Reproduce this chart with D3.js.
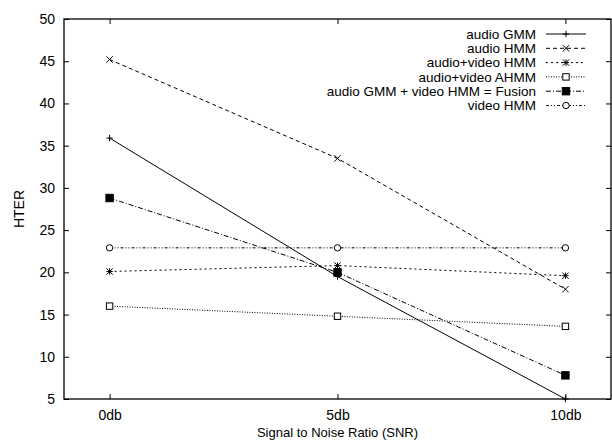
<!DOCTYPE html>
<html>
<head>
<meta charset="utf-8">
<script src="https://cdn.jsdelivr.net/npm/d3@7.9.0/dist/d3.min.js"></script>
<style>
  body { margin: 0; background: #fff; }
  svg text { font-family: "Liberation Sans", Arial, sans-serif; fill: #000; }
</style>
</head>
<body>
<svg id="chart" width="612" height="443"></svg>
<script>
// data
const snrLabels = ['0db', '5db', '10db'];
const snrValues = [0, 5, 10];
const yTicks = [5, 10, 15, 20, 25, 30, 35, 40, 45, 50];

const seriesNames = [
  'audio GMM',
  'audio HMM',
  'audio+video HMM',
  'audio+video AHMM',
  'audio GMM + video HMM = Fusion',
  'video HMM'
];
const audioGMM = [35.9, 19.5, 5.0];
const audioHMM = [45.2, 33.5, 18.0];
const avHMM = [20.1, 20.8, 19.6];
const avAHMM = [16.0, 14.8, 13.6];
const fusion = [28.8, 20.0, 7.8];
const videoHMM = [22.9, 22.9, 22.9];

const dashes = ['', '4,3', '2,3', '1,1.5', '5,2,1,2', '3,2,1,2,1,2'];
const markers = ['plus', 'cross', 'star', 'box', 'fbox', 'circle'];

const series = [audioGMM, audioHMM, avHMM, avAHMM, fusion, videoHMM].map((vals, i) => ({
  name: seriesNames[i], dash: dashes[i], marker: markers[i],
  points: vals.map((v, j) => ({ x: snrValues[j], y: v }))
}));

const margin = { left: 64, right: 1, top: 19, bottom: 44 };
const width = 612, height = 443;

const svg = d3.select('#chart');

const x = d3.scaleLinear().domain([-1, 11]).range([margin.left, width - margin.right]);
const y = d3.scaleLinear().domain([5, 50]).range([height - margin.bottom, margin.top]);

const tickLen = 5;

// axes: gnuplot style, inward ticks on all sides
svg.append('g')
  .attr('transform', `translate(${margin.left},0)`)
  .call(d3.axisLeft(y).tickValues(yTicks).tickSize(-tickLen).tickPadding(9))
  .call(g => g.select('.domain').remove());
svg.append('g')
  .attr('transform', `translate(${width - margin.right},0)`)
  .call(d3.axisRight(y).tickValues(yTicks).tickSize(-tickLen).tickFormat(''))
  .call(g => g.select('.domain').remove());
svg.append('g')
  .attr('transform', `translate(0,${height - margin.bottom})`)
  .call(d3.axisBottom(x).tickValues(snrValues).tickSize(-tickLen).tickPadding(11)
    .tickFormat((d, i) => snrLabels[i]))
  .call(g => g.select('.domain').remove());
svg.append('g')
  .attr('transform', `translate(0,${margin.top})`)
  .call(d3.axisTop(x).tickValues(snrValues).tickSize(-tickLen).tickFormat(''))
  .call(g => g.select('.domain').remove());

svg.selectAll('.tick text').attr('font-size', 14);
svg.selectAll('.tick line').attr('stroke', '#000');

// frame
svg.append('rect')
  .attr('x', x.range()[0]).attr('y', y.range()[1])
  .attr('width', x.range()[1] - x.range()[0])
  .attr('height', y.range()[0] - y.range()[1])
  .attr('fill', 'none').attr('stroke', '#000').attr('stroke-width', 1.3);

svg.append('text')
  .attr('x', (x.range()[0] + x.range()[1]) / 2)
  .attr('y', 437)
  .attr('text-anchor', 'middle')
  .attr('font-size', 13)
  .text('Signal to Noise Ratio (SNR)');

svg.append('text')
  .attr('transform', `translate(24,${(y.range()[0] + y.range()[1]) / 2}) rotate(-90)`)
  .attr('text-anchor', 'middle')
  .attr('font-size', 14)
  .text('HTER');

function drawMarker(g, type, cx, cy) {
  const s = 3.2;
  const m = g.append('g').attr('transform', `translate(${cx},${cy})`)
    .attr('stroke', '#000').attr('stroke-width', 1).attr('fill', 'none');
  if (type === 'plus' || type === 'star') {
    m.append('path').attr('d', `M${-s},0H${s}M0,${-s}V${s}`);
  }
  if (type === 'cross' || type === 'star') {
    m.append('path').attr('d', `M${-s},${-s}L${s},${s}M${-s},${s}L${s},${-s}`);
  }
  if (type === 'box') {
    m.append('rect').attr('x', -s).attr('y', -s).attr('width', 2 * s).attr('height', 2 * s)
      .attr('fill', '#fff');
  }
  if (type === 'fbox') {
    m.append('rect').attr('x', -s - 0.5).attr('y', -s - 0.5).attr('width', 2 * s + 1).attr('height', 2 * s + 1)
      .attr('fill', '#000');
  }
  if (type === 'circle') {
    m.append('circle').attr('r', s).attr('fill', '#fff');
  }
}

const line = d3.line().x(d => x(d.x)).y(d => y(d.y));

series.forEach(s => {
  svg.append('path')
    .datum(s.points)
    .attr('d', line)
    .attr('fill', 'none')
    .attr('stroke', '#000')
    .attr('stroke-width', 1)
    .attr('stroke-dasharray', s.dash || null);
  s.points.forEach(p => drawMarker(svg, s.marker, x(p.x), y(p.y)));
});

// legend
const legendX = 536, legendY = 34, rowH = 14.3;
series.forEach((s, i) => {
  const ly = legendY + i * rowH;
  svg.append('text')
    .attr('x', legendX).attr('y', ly)
    .attr('dy', '0.35em')
    .attr('text-anchor', 'end')
    .attr('font-size', 13.5)
    .text(s.name);
  svg.append('line')
    .attr('x1', 546).attr('x2', 586).attr('y1', ly).attr('y2', ly)
    .attr('stroke', '#000').attr('stroke-width', 1)
    .attr('stroke-dasharray', s.dash || null);
  drawMarker(svg, s.marker, 566, ly);
});
</script>
</body>
</html>
